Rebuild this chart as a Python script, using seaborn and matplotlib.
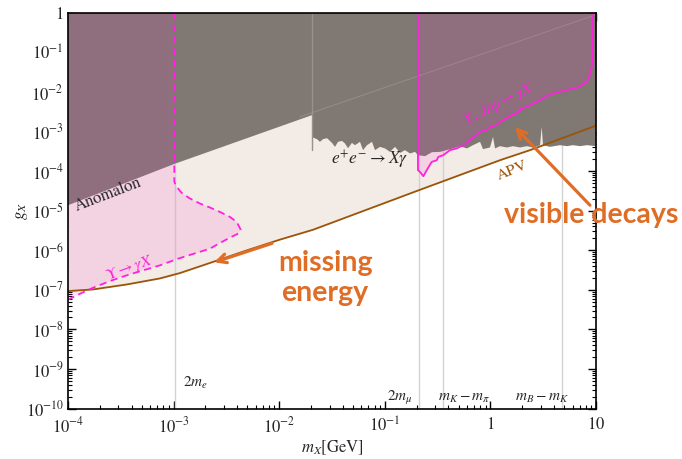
import numpy as np
import pandas as pd
import matplotlib
matplotlib.use("Agg")
import matplotlib.pyplot as plt
import matplotlib.ticker as mticker
import seaborn as sns

# ---------------- data (log10 values) ----------------
# APV bound (brown line)
apv_logm = [-4.000, -3.763, -3.441, -3.129, -2.939, -2.627, -2.305, -1.992, -1.680, -0.686, 0.091, 0.375, 1.000]
apv_logg = [-7.030, -6.990, -6.863, -6.711, -6.575, -6.294, -6.000, -5.729, -5.481, -4.489, -3.722, -3.468, -2.848]

# Anomalon bound (lower edge of gray region, left part)
anom_logm = [-4.000, -3.000, -1.689]
anom_logg = [-4.861, -3.823, -2.582]

# e+e- -> X gamma (BaBar) lower edge
babar_logm = [-1.689, -1.689, -1.642, -1.614, -1.585, -1.547, -1.500, -1.472, -1.443, -1.405, -1.377,
              -1.348, -1.311, -1.282, -1.235, -1.206, -1.169, -1.121, -1.093, -1.045, -0.998, -0.951,
              -0.903, -0.856, -0.809, -0.761, -0.714, -0.686, -0.619, -0.553, -0.477, -0.354, -0.288,
              -0.222, -0.165, -0.098, -0.070, -0.004, 0.025, 0.044, 0.091, 0.157, 0.214, 0.280, 0.347,
              0.403, 0.470, 0.486, 0.498, 0.564, 0.659, 0.725, 0.782, 0.848, 0.915, 1.000]
babar_logg = [-3.468, -3.139, -3.190, -3.258, -3.190, -3.165, -3.284, -3.385, -3.258, -3.233, -3.299,
              -3.418, -3.284, -3.342, -3.258, -3.468, -3.342, -3.258, -3.468, -3.385, -3.425, -3.511,
              -3.385, -3.537, -3.468, -3.552, -3.511, -3.595, -3.620, -3.519, -3.511, -3.425, -3.367,
              -3.425, -3.342, -3.258, -3.443, -3.400, -3.132, -3.425, -3.367, -3.400, -3.367, -3.400, -3.367,
              -3.400, -3.342, -2.878, -3.342, -3.385, -3.342, -3.367, -3.342, -3.367, -3.342, -3.367]

# Upsilon -> gamma X (missing energy, dashed magenta)
ups_logm = [-2.993, -2.993, -2.971, -2.923, -2.845, -2.750, -2.655, -2.561, -2.466, -2.402, -2.365,
            -2.387, -2.466, -2.561, -2.655, -2.955, -3.129, -3.287, -3.444, -3.602, -3.760, -3.918, -3.997]
ups_logg = [0.000, -4.271, -4.397, -4.549, -4.691, -4.818, -4.919, -5.030, -5.157, -5.284, -5.476,
            -5.577, -5.678, -5.815, -5.957, -6.210, -6.380, -6.506, -6.633, -6.777, -6.944, -7.139, -7.248]

# Upsilon, J/psi -> gamma X (visible decays, solid magenta)
vis_logm = [-0.686, -0.686, -0.667, -0.635, -0.603, -0.556, -0.508, -0.493, -0.446, -0.383, -0.319,
            -0.257, -0.193, -0.162, -0.130, -0.098, -0.035, -0.004, 0.060, 0.091, 0.154, 0.202, 0.249,
            0.296, 0.344, 0.406, 0.470, 0.533, 0.596, 0.722, 0.848, 0.912, 0.949, 0.968, 0.972]
vis_logg = [0.000, -3.975, -4.018, -4.127, -3.975, -3.765, -3.722, -3.638, -3.595, -3.468, -3.425,
            -3.342, -3.215, -3.132, -3.089, -3.005, -2.962, -2.878, -2.835, -2.752, -2.666, -2.582, -2.539,
            -2.413, -2.372, -2.286, -2.203, -2.101, -2.033, -1.949, -1.866, -1.739, -1.527, -1.190, 0.000]

# faint continuation line inside gray region
faint_logm = [-1.803, 0.991]
faint_logg = [-2.625, -0.051]

# threshold masses [GeV]
thr_mass = [1.022e-3, 0.2113, 0.3584, 4.786]
thr_labels = [r"$2m_e$", r"$2m_\mu$", r"$m_K-m_\pi$", r"$m_B-m_K$"]

x_ticks = [1e-4, 1e-3, 1e-2, 1e-1, 1, 10]
x_ticklabels = [r"$10^{-4}$", r"$10^{-3}$", r"$10^{-2}$", r"$10^{-1}$", r"$1$", r"$10$"]
y_ticks = [10.0 ** (-k) for k in range(0, 11)]
y_ticklabels = [r"$1$"] + [r"$10^{-%d}$" % k for k in range(1, 11)]

# ---------------- styling ----------------
sns.set_theme(style="ticks")
plt.rcParams["font.family"] = ["STIXGeneral", "DejaVu Serif"]
plt.rcParams["mathtext.fontset"] = "stix"

BEIGE = "#f2ebe6"
GRAY = "#7f7873"
PINK = "#ff2bc5"
MAGENTA = "#ff22dd"
BROWN = "#9c5408"
ORANGE = "#e06d26"

fig = plt.figure(figsize=(6.82, 4.59), dpi=100)
ax = fig.add_axes([68 / 682, 1 - 408.5 / 459, 528 / 682, 395.5 / 459])
ax.set_xscale("log")
ax.set_yscale("log")
ax.set_xlim(1e-4, 10)
ax.set_ylim(1e-10, 1)

def p(v):
    return 10.0 ** np.asarray(v)

apv_m, apv_g = p(apv_logm), p(apv_logg)

# beige: everything above APV
ax.fill_between(apv_m, apv_g, 1.0, color=BEIGE, lw=0, zorder=1)

# threshold lines
for m in thr_mass:
    ax.axvline(m, color="#d2d2d2", lw=1.0, zorder=1.5)

# gray region: Anomalon + e+e- -> X gamma
gx = np.concatenate([[1e-4], p(anom_logm), p(babar_logm), [10, 10, 1e-4]])
gy = np.concatenate([[p(anom_logg)[0]], p(anom_logg), p(babar_logg), [p(babar_logg)[-1], 1.0, 1.0]])
ax.fill(gx, gy, color=GRAY, lw=0, zorder=2)
ax.plot([p(-1.689)] * 2, [p(-3.468), 1.0], color="#959291", lw=1.0, zorder=2.5)
ax.plot(p(faint_logm), p(faint_logg), color="#999592", lw=0.8, alpha=0.7, zorder=2.5)

# pink regions
ux, uy = p(ups_logm), p(ups_logg)
ax.fill(np.concatenate([[1e-4], ux, [1e-4]]), np.concatenate([[1.0], uy, [uy[-1]]]),
        color=PINK, alpha=0.13, lw=0, zorder=3)
vx, vy = p(vis_logm), p(vis_logg)
ax.fill(vx, vy, color=PINK, alpha=0.13, lw=0, zorder=3)

# lines through seaborn (no aggregation, keep drawing order)
df_apv = pd.DataFrame({"m": apv_m, "g": apv_g})
sns.lineplot(data=df_apv, x="m", y="g", ax=ax, color=BROWN, lw=1.3, sort=False,
             estimator=None, errorbar=None, zorder=4)
df_ups = pd.DataFrame({"m": ux, "g": uy})
sns.lineplot(data=df_ups, x="m", y="g", ax=ax, color=MAGENTA, lw=1.3, sort=False,
             estimator=None, errorbar=None, zorder=4)
ax.lines[-1].set_dashes([4, 2.5])
df_vis = pd.DataFrame({"m": vx, "g": vy})
sns.lineplot(data=df_vis, x="m", y="g", ax=ax, color=MAGENTA, lw=1.3, sort=False,
             estimator=None, errorbar=None, zorder=4)

# axes cosmetics
ax.set_xticks(x_ticks)
ax.set_xticklabels(x_ticklabels)
ax.set_yticks(y_ticks)
ax.set_yticklabels(y_ticklabels)
ax.xaxis.set_minor_locator(mticker.LogLocator(base=10, subs=np.arange(2, 10), numticks=20))
ax.yaxis.set_minor_locator(mticker.LogLocator(base=10, subs=np.arange(2, 10), numticks=20))
ax.xaxis.set_minor_formatter(mticker.NullFormatter())
ax.yaxis.set_minor_formatter(mticker.NullFormatter())
ax.tick_params(which="both", direction="in", top=True, right=True, color="black", labelsize=12)
ax.tick_params(axis="y", which="major", pad=3)
ax.tick_params(axis="x", which="major", pad=6)
ax.tick_params(which="major", length=6, width=1)
ax.tick_params(which="minor", length=3, width=0.8)
for s in ax.spines.values():
    s.set_color("black")
    s.set_linewidth(1.2)
    s.set_zorder(6)
ax.set_xlabel(r"$m_X[\mathrm{GeV}]$", fontsize=12, labelpad=1)
ax.set_ylabel(r"$g_X$", fontsize=12, labelpad=-3)

# labels
ax.text(2.39e-4, 2.5e-5, "Anomalon", rotation=21, fontsize=12, ha="center", va="center", zorder=5)
ax.text(3.86e-4, 3.5e-7, r"$\Upsilon\rightarrow\gamma X$", rotation=20, fontsize=11.5,
        color=MAGENTA, ha="center", va="center", zorder=5)
ax.text(0.0724, 1.9e-4, r"$e^{+}e^{-}\rightarrow X\gamma$", fontsize=12.5, ha="center", va="center", zorder=5)
ax.text(1.60, 1.06e-4, "APV", rotation=22, fontsize=11.5, color=BROWN, ha="center", va="center", zorder=5)
ax.text(1.2, 5.0e-3, r"$\Upsilon,\,J/\psi\rightarrow\gamma X$", rotation=27, fontsize=11.5,
        color=MAGENTA, ha="center", va="center", zorder=5)

ax.text(1.23e-3, 3.6e-10, thr_labels[0], fontsize=11, ha="left", va="baseline", zorder=5)
ax.text(0.185, 1.6e-10, thr_labels[1], fontsize=11, ha="right", va="baseline", zorder=5)
ax.text(0.56, 1.6e-10, thr_labels[2], fontsize=11, ha="center", va="baseline", zorder=5)
ax.text(3.1, 1.6e-10, thr_labels[3], fontsize=11, ha="center", va="baseline", zorder=5)

ax.text(0.0272, 1.95e-7, "missing\nenergy", fontsize=20.5, fontweight="bold", family=["Lato", "DejaVu Sans"],
        color=ORANGE, ha="center", va="center", linespacing=1.2, zorder=5)
ax.text(8.97, 7.7e-6, "visible decays", fontsize=20.5, fontweight="bold", family=["Lato", "DejaVu Sans"],
        color=ORANGE, ha="center", va="center", zorder=7, clip_on=False)
ax.annotate("", xy=(2.42e-3, 4.97e-7), xytext=(8.55e-3, 1.50e-6),
            arrowprops=dict(arrowstyle="->", color=ORANGE, lw=2.3, mutation_scale=16,
                            shrinkA=0, shrinkB=0), zorder=5)
ax.annotate("", xy=(1.71, 1.30e-3), xytext=(8.77, 1.38e-5),
            arrowprops=dict(arrowstyle="->", color=ORANGE, lw=2.3, mutation_scale=16,
                            shrinkA=0, shrinkB=0), zorder=7, annotation_clip=False)

fig.savefig("out.png", dpi=100)
